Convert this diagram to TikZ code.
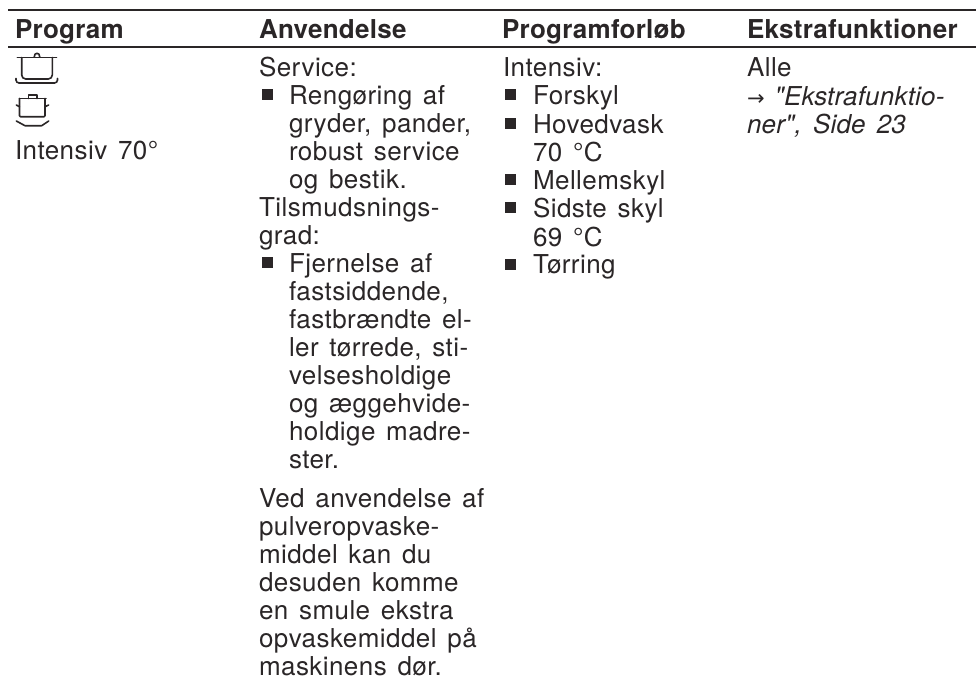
\documentclass[tikz,border=0pt]{standalone}
\usepackage{fontspec}
\newfontfamily\bodyfont{TeX Gyre Heros}[LetterSpace=1.7,WordSpace=1.4]
\newfontfamily\italfont{TeX Gyre Heros}[LetterSpace=0.8,WordSpace=1.5]
\newfontfamily\headfont{TeX Gyre Heros}[LetterSpace=1.1]
\newfontfamily\arrowfont{DejaVu Sans}
\definecolor{ink}{HTML}{2A2627}
\tikzset{x=1pt,y=-1pt,
 txt/.style={anchor=base west,inner sep=0pt,outer sep=0pt,text=ink,font=\bodyfont\fontsize{26}{28}\selectfont},
 head/.style={txt,font=\headfont\fontsize{26}{28}\selectfont\bfseries},
 ital/.style={txt,font=\italfont\fontsize{26}{28}\selectfont\itshape},
 rulebar/.style={draw=ink,line width=1.7pt},
 icon/.style={draw=ink,line width=1.6pt,line join=round,line cap=round},
 bul/.style={fill=ink,inner sep=0pt,minimum size=11pt,draw=none,rectangle}}
\begin{document}
\begin{tikzpicture}
\useasboundingbox (0,0) rectangle (976,680);
\coordinate (tl) at (8,10.3); \coordinate (tr) at (976,10.3);
\coordinate (ml) at (8,47.3); \coordinate (mr) at (976,47.3);
\draw[rulebar] (tl)--(tr);
\draw[rulebar] (ml)--(mr);
\node[head] (h1) at (15,38.5) {Program};
\node[head] (h2) at (259,38.5) {Anvendelse};
\node[head] (h3) at (502,38.5) {Programforløb};
\node[head] (h4) at (747,38.5) {Ekstrafunktioner};
% icons
\draw[icon] (17.3,57.5)--(56.5,57.5);
\draw[icon,rounded corners=4pt] (21.7,57.5)--(21.7,79)--(52.3,79)--(52.3,57.5);
\draw[icon] (34.2,57) .. controls (34.2,52) and (39.8,52) .. (39.8,57);
\draw[icon,rounded corners=3pt] (16,78.5)--(16,83)--(57.5,83)--(57.5,78.5);
\draw[icon] (19.5,98.5)--(46,98.5);
\draw[icon] (28.3,98.5)--(28.3,95)--(36.7,95)--(36.7,98.5);
\draw[icon,rounded corners=1pt] (19.5,98.5)--(19.5,116.7)--(45,116.7)--(45,98.5);
\draw[icon] (16.3,105)--(19.5,106.7) (48.7,105)--(45,106.7);
\draw[icon] (16.3,121) -- (25,125.7) -- (41.7,125.7) -- (48.7,121);
\node[txt] (pname) at (15,159.5) {Intensiv 70°};
% Anvendelse
\node[txt] (a1) at (259,76) {Service:};
\node[bul] (b1) at (267.5,94.5) {}; \node[txt] (a2) at (289,104) {Rengøring af};
\node[txt] (a3) at (289,132) {gryder, pander,};
\node[txt] (a4) at (289,160) {robust service};
\node[txt] (a5) at (289,188) {og bestik.};
\node[txt] (a6) at (259,216) {Tilsmudsnings-};
\node[txt] (a7) at (259,244) {grad:};
\node[bul] (b2) at (267.5,262.5) {}; \node[txt] (a8) at (289,272) {Fjernelse af};
\node[txt] (a9) at (289,300) {fastsiddende,};
\node[txt] (a10) at (289,328) {fastbrændte el-};
\node[txt] (a11) at (289,356) {ler tørrede, sti-};
\node[txt] (a12) at (289,384) {velsesholdige};
\node[txt] (a13) at (289,412) {og æggehvide-};
\node[txt] (a14) at (289,440) {holdige madre-};
\node[txt] (a15) at (289,468) {ster.};
\node[txt] (a16) at (259,507) {Ved anvendelse af};
\node[txt] (a17) at (259,535) {pulveropvaske-};
\node[txt] (a18) at (259,563) {middel kan du};
\node[txt] (a19) at (259,591) {desuden komme};
\node[txt] (a20) at (259,619) {en smule ekstra};
\node[txt] (a21) at (259,647) {opvaskemiddel på};
\node[txt] (a22) at (259,675) {maskinens dør.};
% Programforløb
\node[txt] (p1) at (503,76) {Intensiv:};
\node[bul] (b3) at (510.5,94.5) {}; \node[txt] (p2) at (533,104) {Forskyl};
\node[bul] (b4) at (510.5,123.5) {}; \node[txt] (p3) at (533,133) {Hovedvask};
\node[txt] (p4) at (533,161) {70 °C};
\node[bul] (b5) at (510.5,179.5) {}; \node[txt] (p5) at (533,189) {Mellemskyl};
\node[bul] (b6) at (510.5,207.5) {}; \node[txt] (p6) at (533,217) {Sidste skyl};
\node[txt] (p7) at (533,246) {69 °C};
\node[bul] (b7) at (510.5,264) {}; \node[txt] (p8) at (533,273) {Tørring};
% Ekstra
\node[txt] (e1) at (747,76) {Alle};
\node[ital] (e2) at (747,105) {{\arrowfont\upshape\fontsize{21}{28}\selectfont →}\hspace{10pt}"Ekstrafunktio-};
\node[ital] (e3) at (747,133) {ner", Side 23};
\end{tikzpicture}
\end{document}
